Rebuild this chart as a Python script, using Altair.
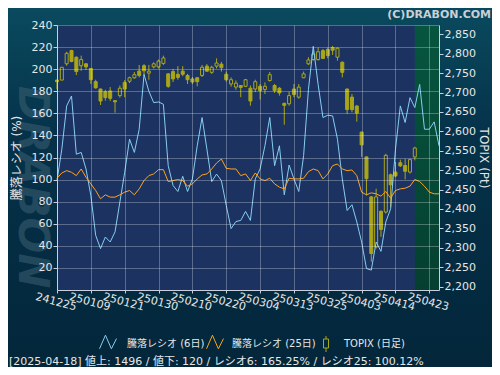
import altair as alt
import pandas as pd

# ---------------- data ----------------
dates = [
    "241225", "241226", "241227", "241230",
    "250106", "250107", "250108", "250109", "250110", "250114", "250115", "250116", "250117",
    "250120", "250121", "250122", "250123", "250124", "250127", "250128", "250129", "250130", "250131",
    "250203", "250204", "250205", "250206", "250207", "250210", "250212", "250213", "250214",
    "250217", "250218", "250219", "250220", "250221", "250225", "250226", "250227", "250228",
    "250303", "250304", "250305", "250306", "250307", "250310", "250311", "250312", "250313", "250314",
    "250317", "250318", "250319", "250321", "250324", "250325", "250326", "250327", "250328", "250331",
    "250401", "250402", "250403", "250404", "250407", "250408", "250409", "250410", "250411",
    "250414", "250415", "250416", "250417", "250418", "250421", "250422", "250423", "250424", "250425",
]

topix_open = [2732, 2732, 2774, 2808, 2791, 2769, 2774, 2762, 2728, 2709,
              2702, 2704, 2679, 2692, 2726, 2729, 2738, 2755, 2769, 2750,
              2766, 2766, 2775, 2748, 2754, 2747, 2755, 2744, 2735, 2738,
              2744, 2768, 2752, 2768, 2773, 2747, 2722, 2714, 2718, 2716,
              2711, 2709, 2716, 2708, 2731, 2718, 2711, 2672, 2671, 2709,
              2688, 2738, 2774, 2785, 2785, 2808, 2811, 2816, 2791, 2778,
              2709, 2688, 2665, 2598, 2534, 2431, 2302, 2394, 2392, 2488,
              2495, 2519, 2512, 2495, 2534]
topix_high = [2733, 2766, 2805, 2810, 2793, 2795, 2776, 2763, 2733, 2710,
              2707, 2714, 2680, 2718, 2732, 2741, 2753, 2771, 2773, 2771,
              2778, 2785, 2795, 2750, 2761, 2768, 2768, 2748, 2740, 2740,
              2771, 2773, 2769, 2788, 2779, 2754, 2739, 2731, 2719, 2735,
              2718, 2733, 2722, 2726, 2753, 2722, 2714, 2674, 2702, 2722,
              2722, 2754, 2791, 2808, 2816, 2812, 2816, 2820, 2816, 2780,
              2710, 2696, 2668, 2599, 2535, 2433, 2452, 2396, 2542, 2491,
              2521, 2527, 2529, 2529, 2560]
topix_low = [2708, 2732, 2769, 2778, 2745, 2756, 2758, 2722, 2710, 2668,
             2679, 2678, 2648, 2687, 2688, 2724, 2735, 2739, 2744, 2733,
             2762, 2762, 2771, 2712, 2727, 2733, 2742, 2722, 2722, 2716,
             2740, 2753, 2748, 2762, 2754, 2728, 2715, 2707, 2688, 2714,
             2666, 2701, 2682, 2696, 2728, 2699, 2692, 2617, 2666, 2688,
             2684, 2737, 2771, 2782, 2782, 2786, 2788, 2797, 2782, 2739,
             2645, 2649, 2625, 2534, 2435, 2264, 2298, 2328, 2388, 2405,
             2482, 2508, 2476, 2491, 2525]
topix_close = [2728, 2765, 2801, 2780, 2754, 2785, 2766, 2733, 2712, 2678,
               2687, 2685, 2676, 2711, 2709, 2738, 2746, 2744, 2756, 2755,
               2774, 2781, 2789, 2716, 2735, 2739, 2747, 2733, 2727, 2728,
               2765, 2755, 2765, 2776, 2764, 2733, 2733, 2724, 2713, 2733,
               2678, 2728, 2705, 2716, 2746, 2705, 2699, 2667, 2692, 2695,
               2714, 2748, 2784, 2799, 2805, 2788, 2795, 2809, 2814, 2752,
               2656, 2656, 2647, 2565, 2478, 2285, 2431, 2347, 2538, 2462,
               2485, 2511, 2497, 2527, 2557]

ratio6 = [99, 127.6, 166.7, 175.7, 123, 124.6, 109.6, 85.6, 49.5, 37.5,
          48, 43.5, 52.6, 79.6, 106.6, 136.6, 124.6, 145.6, 195.2, 180,
          169.7, 170.3, 168.2, 112.6, 94.6, 89.2, 103, 89.2, 100.6, 130.6,
          156.2, 127.6, 98.2, 105, 99, 76.6, 55.6, 62, 63, 71.2,
          63, 100.6, 109.6, 130.6, 156.2, 112.6, 130.6, 86.2, 113.2, 100.6,
          89.2, 121.6, 181.7, 220.7, 186.2, 156.2, 158.3, 157.7, 136.6, 100.6,
          72, 77.2, 61.6, 43.5, 19.5, 18, 43.5, 35, 61.6, 73.6,
          127.6, 166.7, 151.7, 174.2, 165.25, 186.2, 145.6, 145.6, 152.3, 130.6]
ratio25 = [101.2, 106, 108.1, 106.6, 103.6, 109.6, 102.1, 96.1, 90.1, 82.6,
           86.2, 84.1, 84.1, 86.2, 88.6, 90.1, 86.2, 91.6, 99.1, 103.6,
           105.1, 109, 109, 98.2, 99.1, 100, 99.1, 94, 96.1, 100.6,
           104.2, 105.1, 109.6, 115, 118.6, 110.2, 109.6, 109.6, 103.6, 105.1,
           99.1, 106, 100.6, 99.1, 101.2, 96.1, 93.1, 91.6, 101.2, 100.6,
           100.6, 101.2, 107.2, 109.6, 108.1, 100.6, 105.1, 112.6, 114.1, 109.6,
           108.1, 108.7, 103.6, 88.6, 86.2, 88, 87.1, 85, 89.2, 83.2,
           90.1, 91.6, 92.2, 94, 100.12, 98.2, 94, 88.6, 87.1, 87.1]

x_ticks = ["241225", "250109", "250121", "250130", "250210", "250220",
           "250304", "250313", "250325", "250403", "250414", "250423"]
left_ticks = [20, 40, 60, 80, 100, 120, 140, 160, 180, 200, 220, 240]
right_ticks = [2200, 2250, 2300, 2350, 2400, 2450, 2500, 2550, 2600,
               2650, 2700, 2750, 2800, 2850]
latest_day = "250418"

legend_labels = ["騰落レシオ (6日)", "騰落レシオ (25日)", "TOPIX (日足)"]
info_text = "[2025-04-18]  値上: 1496 / 値下: 120 / レシオ6: 165.25% / レシオ25: 100.12%"

# ---------------- style ----------------
W, H = 382, 265
FONT = "DejaVu Sans, Noto Sans CJK JP"
TXT = "#e6e6e6"
AXC = "#c8d0e0"
NAVY = "#1c3362"
OLIVE = "#aaa619"
BLUE = "#87cdf0"
ORANGE = "#ffa31a"

lines_df = pd.DataFrame({"date": dates, "r6": ratio6, "r25": ratio25})
candle_df = pd.DataFrame({"date": dates[:len(topix_open)], "open": topix_open,
                          "high": topix_high, "low": topix_low, "close": topix_close})
future_df = pd.DataFrame({"start": [latest_day], "end": [dates[-1]]})
one = alt.Data(values=[{"a": 1}])

xscale = alt.Scale(type="point", domain=dates, padding=0)
xaxis = alt.Axis(values=x_ticks, labelAngle=15, labelAlign="center", labelBaseline="top",
                 labelOverlap=False, labelBound=False, grid=True, gridColor="#ffffff",
                 gridOpacity=0.28, tickSize=3, labelPadding=3, domainColor=AXC,
                 tickColor=AXC, labelColor=TXT, labelFont=FONT, labelFontSize=11,
                 title=None, zindex=1)
left_scale = alt.Scale(domain=[0, 240], nice=False, zero=False)
left_axis = alt.Axis(orient="left", values=left_ticks, grid=True, gridColor="#ffffff",
                     gridOpacity=0.28, tickSize=4, labelPadding=1, domainColor=AXC,
                     tickColor=AXC, labelColor=TXT, labelFont=FONT, labelFontSize=11,
                     title="騰落レシオ (%)", titleColor=TXT, titleFont=FONT,
                     titleFontSize=12, titleFontWeight="normal", titlePadding=8, zindex=1)
right_scale = alt.Scale(domain=[2191, 2874], nice=False, zero=False)
right_axis = alt.Axis(orient="right", values=right_ticks,
                      labelExpr="format(datum.value, ',')", grid=False,
                      tickSize=4, labelPadding=1, domainColor=AXC, tickColor=AXC,
                      labelColor=TXT, labelFont=FONT, labelFontSize=11,
                      title="TOPIX (Pt)", titleColor=TXT, titleFont=FONT,
                      titleFontSize=12, titleFontWeight="normal", titlePadding=1, zindex=1)

# ---------------- decoration ----------------
bg_grad = alt.LinearGradient(gradient="linear", x1=0, x2=0, y1=0, y2=1, stops=[
    alt.GradientStop(color="#0a4a5e", offset=0),
    alt.GradientStop(color="#05324a", offset=0.35),
    alt.GradientStop(color="#03263a", offset=1)])
canvas = alt.Chart(one).mark_rect(color=bg_grad).encode(
    x=alt.value(-49), x2=alt.value(435), y=alt.value(-17), y2=alt.value(342))
plot_bg = alt.Chart(one).mark_rect(color=NAVY).encode(
    x=alt.value(0), x2=alt.value(W), y=alt.value(0), y2=alt.value(H))
green_grad = alt.LinearGradient(gradient="linear", x1=0, x2=0, y1=0, y2=1, stops=[
    alt.GradientStop(color="#06553f", offset=0),
    alt.GradientStop(color="#053f30", offset=1)])
future = alt.Chart(future_df).mark_rect(color=green_grad).encode(
    x=alt.X("start:O", scale=xscale, axis=xaxis), x2="end:O",
    y=alt.value(0), y2=alt.value(H))

watermark = alt.Chart(one).mark_text(
    text="DRABON", angle=90, fontSize=42, fontWeight="bold", fontStyle="italic",
    font="DejaVu Sans", color="#3c6072", opacity=0.55, align="center", baseline="middle"
).encode(x=alt.value(-25), y=alt.value(162))
copyright_txt = alt.Chart(one).mark_text(
    text="(C)DRABON.COM", fontSize=11, fontWeight="bold", font="DejaVu Sans",
    color="#c9d0d6", align="right", baseline="middle"
).encode(x=alt.value(434), y=alt.value(-10))

# ---------------- candles ----------------
wick = alt.Chart(candle_df).mark_rule(color=OLIVE, strokeWidth=1).encode(
    x=alt.X("date:O", scale=xscale, axis=xaxis),
    y=alt.Y("low:Q", scale=right_scale, axis=right_axis), y2="high:Q")
body = alt.Chart(candle_df).mark_bar(size=3, stroke=OLIVE, strokeWidth=1).encode(
    x=alt.X("date:O", scale=xscale, axis=xaxis),
    y=alt.Y("open:Q", scale=right_scale, axis=right_axis), y2="close:Q",
    fill=alt.condition("datum.close > datum.open", alt.value(NAVY), alt.value(OLIVE)))
candles = alt.layer(wick, body)

# ---------------- ratio lines ----------------
l6 = alt.Chart(lines_df).mark_line(color=BLUE, strokeWidth=1).encode(
    x=alt.X("date:O", scale=xscale, axis=xaxis),
    y=alt.Y("r6:Q", scale=left_scale, axis=left_axis))
l25 = alt.Chart(lines_df).mark_line(color=ORANGE, strokeWidth=1).encode(
    x=alt.X("date:O", scale=xscale, axis=xaxis),
    y=alt.Y("r25:Q", scale=left_scale, axis=left_axis))
lines = alt.layer(l6, l25)

# ---------------- legend (manual) ----------------
zig = "M-1,0.8L-0.3,-0.8L0.4,0.8L1,-0.4"
leg_blue = alt.Chart(one).mark_point(shape=zig, size=289, filled=False, color=BLUE,
                                     strokeWidth=1, opacity=1).encode(
    x=alt.value(51), y=alt.value(317))
leg_orange = alt.Chart(one).mark_point(shape=zig, size=289, filled=False, color=ORANGE,
                                       strokeWidth=1, opacity=1).encode(
    x=alt.value(158), y=alt.value(317))
leg_wick = alt.Chart(one).mark_rule(color=OLIVE, strokeWidth=1).encode(
    x=alt.value(269), y=alt.value(311), y2=alt.value(327))
leg_body = alt.Chart(one).mark_rect(fill="#04283c", stroke=OLIVE, strokeWidth=1).encode(
    x=alt.value(266.5), x2=alt.value(271.5), y=alt.value(314), y2=alt.value(323))


def legend_text(label, x):
    return alt.Chart(one).mark_text(text=label, fontSize=10, font=FONT, color=TXT,
                                    align="left", baseline="middle").encode(
        x=alt.value(x), y=alt.value(319))


leg_t1 = legend_text(legend_labels[0], 70)
leg_t2 = legend_text(legend_labels[1], 175)
leg_t3 = legend_text(legend_labels[2], 287)
info = alt.Chart(one).mark_text(text=info_text, fontSize=11, font=FONT, color=TXT,
                                align="left", baseline="alphabetic").encode(
    x=alt.value(-48), y=alt.value(340))

chart = alt.layer(
    canvas, plot_bg, future, watermark, copyright_txt,
    candles, lines,
    leg_blue, leg_orange, leg_wick, leg_body, leg_t1, leg_t2, leg_t3, info
).resolve_scale(y="independent").properties(
    width=W, height=H,
    background="#03263a",
    padding={"left": 49, "top": 17, "right": 53, "bottom": 77},
    autosize=alt.AutoSizeParams(type="none"),
).configure_view(stroke=None)

chart.save("out.html", embed_options={"renderer": "svg", "actions": False})
